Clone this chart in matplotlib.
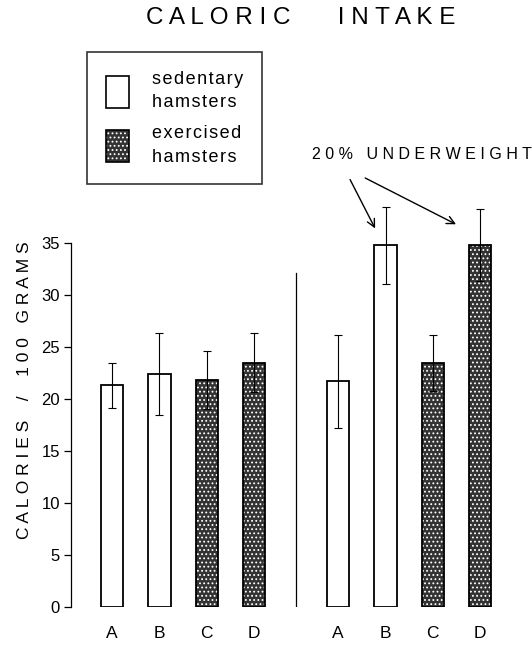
import numpy as np
import matplotlib
matplotlib.use('Agg')
import matplotlib.pyplot as plt
from matplotlib.patches import Patch
from matplotlib.legend_handler import HandlerTuple

plt.rcParams['font.family'] = ['Liberation Sans', 'DejaVu Sans']
plt.rcParams['hatch.linewidth'] = 0.8

# data
groups = ['A', 'B', 'C', 'D']
exercised = [False, False, True, True]
left_means = [21.3, 22.4, 21.8, 23.5]
left_err = [2.2, 3.9, 2.8, 2.8]
right_means = [21.7, 34.8, 23.5, 34.8]
right_err = [4.5, 3.7, 2.7, 3.5]
y_ticks = [0, 5, 10, 15, 20, 25, 30, 35]
legend_labels = ['sedentary\nhamsters', 'exercised\nhamsters']


def spaced(s, sep=' '):
    # mimic the wide letter spacing of the original lettering
    return '\n'.join(sep.join(line) for line in s.split('\n'))


HAIR = '\u200a'
STIPPLE_FACE = '#333333'
STIPPLE = '....'
BAR_W = 0.47

fig = plt.figure(figsize=(5.32, 6.46), dpi=100)
# y range 0..40 so tall bars and error bars are not clipped
ax = fig.add_axes([71 / 532, 39 / 646, 429 / 532, 416 / 646])

x_left = np.arange(len(groups))
x_right = x_left + 4.78


def draw_group(xs, means, errs):
    for x, m, e, ex in zip(xs, means, errs, exercised):
        if ex:
            ax.bar(x, m, BAR_W, color=STIPPLE_FACE, edgecolor='white',
                   hatch=STIPPLE, linewidth=0, zorder=2)
        ax.bar(x, m, BAR_W, fill=not ex, facecolor='white',
               edgecolor='black', linewidth=1.3, zorder=3)
    ax.errorbar(xs, means, yerr=errs, fmt='none', ecolor='black',
                elinewidth=0.8, capsize=3, capthick=0.8, zorder=4)


draw_group(x_left, left_means, left_err)
draw_group(x_right, right_means, right_err)

# vertical divider between the two sets
x_div = (x_left[-1] + x_right[0]) / 2
ax.plot([x_div, x_div], [0, 32.1], color='black', lw=0.9)

ax.set_xlim(-0.87, 8.2)
ax.set_ylim(0, 40)
ax.set_yticks(y_ticks)
ax.set_yticklabels([str(t) for t in y_ticks], fontsize=12)
ax.set_xticks(np.concatenate([x_left, x_right]))
ax.set_xticklabels(groups + groups, fontsize=12.5)
ax.tick_params(axis='x', length=0, pad=14)
ax.tick_params(axis='y', direction='out', length=5, width=0.9, pad=3)
for side in ['top', 'right', 'bottom']:
    ax.spines[side].set_visible(False)
ax.spines['left'].set_bounds(0, 35)
ax.spines['left'].set_linewidth(0.9)

fig.text(25 / 532, 1 - 390 / 646, spaced('CALORIES / 100 GRAMS').replace('/', ' / '),
         rotation=90, ha='center', va='center', fontsize=12.5)

fig.text(301 / 532, 1 - 18 / 646,
         spaced('CALORIC') + '       ' + spaced('INTAKE'),
         ha='center', va='center', fontsize=17.5)

# annotation for the underweight groups
ax.text(4.23, 43.5, '2 0 %   ' + spaced('UNDERWEIGHT'), ha='left', va='center',
        fontsize=11.5, clip_on=False)
for tail, tip in [((5.03, 41.1), (5.56, 36.4)), ((5.35, 41.25), (7.27, 36.8))]:
    ax.annotate('', xy=tip, xytext=tail, annotation_clip=False,
                arrowprops=dict(arrowstyle='->', lw=1.0, color='black',
                                mutation_scale=14, shrinkA=0, shrinkB=0))

# legend
h_sed = Patch(facecolor='white', edgecolor='black', linewidth=1.2)
h_ex_fill = Patch(facecolor=STIPPLE_FACE, edgecolor='white', hatch=STIPPLE, linewidth=0)
h_ex_edge = Patch(fill=False, edgecolor='black', linewidth=1.2)
leg = fig.legend([h_sed, (h_ex_fill, h_ex_edge)],
                 [spaced(s, HAIR) for s in legend_labels],
                 handler_map={tuple: HandlerTuple(ndivide=1, pad=0)},
                 loc='upper left', bbox_to_anchor=(87 / 532, 1 - 52 / 646),
                 fontsize=13, frameon=True, fancybox=False, edgecolor='black',
                 handlelength=1.27, handleheight=2.4, handletextpad=1.3,
                 labelspacing=0.75, borderpad=1.05, borderaxespad=0)
leg.get_frame().set_linewidth(1.2)
for t in leg.get_texts():
    t.set_linespacing(1.5)

fig.savefig('out.png', dpi=100)
